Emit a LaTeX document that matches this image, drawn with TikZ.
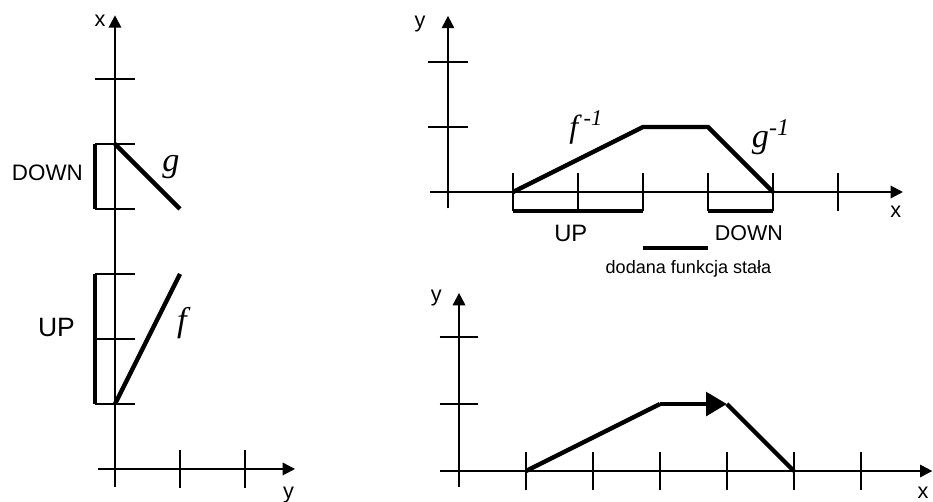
\documentclass[tikz,border=0pt]{standalone}
\usepackage{fontspec}
\setmainfont{Liberation Sans}
\newfontfamily\fnfont{Liberation Serif}
\usetikzlibrary{arrows.meta}

\tikzset{
  axis/.style={line width=0.9pt, -{Triangle[length=0.19cm,width=0.19cm]}},
  tickline/.style={line width=0.9pt},
  curve/.style={line width=1.9pt},
  bracket/.style={line width=1.9pt},
  fnlabel/.style={font={\fnfont\itshape\fontsize{15}{18}\selectfont}},
  axlabel/.style={font=\fontsize{9.5}{11}\selectfont},
}

\begin{document}
\begin{tikzpicture}
  \useasboundingbox (0,0) rectangle (14.354,7.723);

  % Left: x over y, with f and g
  \begin{scope}[shift={(1.769,0.508)}]
    \draw[axis] (-0.26,0) -- (2.77,0);
    \draw[axis] (0,-0.28) -- (0,6.98);
    \foreach \k in {1,...,6}
      \draw[tickline] (-0.31,\k) -- (0.31,\k);
    \foreach \k in {1,2}
      \draw[tickline] (\k,-0.29) -- (\k,0.29);

    \draw[bracket] (-0.31,4) -- (-0.31,5);
    \draw[bracket] (-0.31,1) -- (-0.31,3);

    \coordinate (gA) at (0,5);
    \coordinate (gB) at (1,4);
    \coordinate (fA) at (0,1);
    \coordinate (fB) at (1,3);
    \draw[curve] (gA) -- (gB);
    \draw[curve] (fA) -- (fB);

    \node[fnlabel, anchor=base] (lblG) at (0.86,4.58) {g};
    \node[fnlabel, anchor=base] (lblF) at (1.03,2.11) {f};
    \node[font=\fontsize{9.8}{11}\selectfont] (lblDownL) at (-1.04,4.56) {DOWN};
    \node[font=\fontsize{11.6}{13}\selectfont] (lblUpL) at (-0.9,2.18) {UP};
    \node[axlabel] (lblXL) at (-0.23,6.9) {x};
    \node[axlabel] (lblYL) at (2.67,-0.4) {y};
  \end{scope}

  % Top right: inverses, y over x
  \begin{scope}[shift={(6.892,4.769)}]
    \draw[axis] (-0.28,0) -- (7.0,0);
    \draw[axis] (0,-0.25) -- (0,2.71);
    \foreach \k in {1,2}
      \draw[tickline] (-0.31,\k) -- (0.31,\k);
    \foreach \k in {1,...,6}
      \draw[tickline] (\k,-0.29) -- (\k,0.29);

    \draw[bracket] (1,-0.29) -- (3,-0.29);
    \draw[bracket] (4,-0.29) -- (5,-0.29);

    \coordinate (pA) at (1,0);
    \coordinate (pB) at (3,1);
    \coordinate (pC) at (4,1);
    \coordinate (pD) at (5,0);
    \draw[curve] (pA) -- (pB) -- (pC) -- (pD);

    \node[fnlabel, font={\fnfont\itshape\fontsize{14}{16}\selectfont}, anchor=base west, inner sep=0pt]
      (lblFinv) at (1.86,0.84) {f\,\textsuperscript{-1}};
    \node[fnlabel, anchor=base west, inner sep=0pt]
      (lblGinv) at (4.67,0.68) {g\textsuperscript{-1}};
    \node[font=\fontsize{10.4}{12}\selectfont] (lblUpR) at (1.89,-0.63) {UP};
    \node[font=\fontsize{9.4}{11}\selectfont] (lblDownR) at (4.63,-0.63) {DOWN};

    \coordinate (legA) at (3,-0.86);
    \coordinate (legB) at (4,-0.86);
    \draw[bracket] (legA) -- (legB);
    \node[font=\fontsize{7.9}{9}\selectfont] (lblConst) at (3.7,-1.18) {dodana funkcja stała};

    \node[axlabel] (lblXR) at (6.89,-0.31) {x};
    \node[axlabel] (lblYR) at (-0.43,2.58) {y};
  \end{scope}

  % Bottom right: composed result
  \begin{scope}[shift={(7.062,0.477)}, scale=1.03]
    \draw[axis] (-0.28,0) -- (7.07,0);
    \draw[axis] (0,-0.24) -- (0,2.66);
    \foreach \k in {1,2}
      \draw[tickline] (-0.29,\k) -- (0.29,\k);
    \foreach \k in {1,...,6}
      \draw[tickline] (\k,-0.29) -- (\k,0.29);

    \coordinate (qA) at (1,0);
    \coordinate (qB) at (3,1);
    \coordinate (qC) at (4,1);
    \coordinate (qD) at (5,0);
    \draw[curve] (qA) -- (qB);
    \draw[curve, -{Triangle[length=0.32cm,width=0.36cm]}] (qB) -- (qC);
    \draw[curve] (qC) -- (qD);

    \node[axlabel] (lblXB) at (6.93,-0.33) {x};
    \node[axlabel] (lblYB) at (-0.34,2.58) {y};
  \end{scope}
\end{tikzpicture}
\end{document}
